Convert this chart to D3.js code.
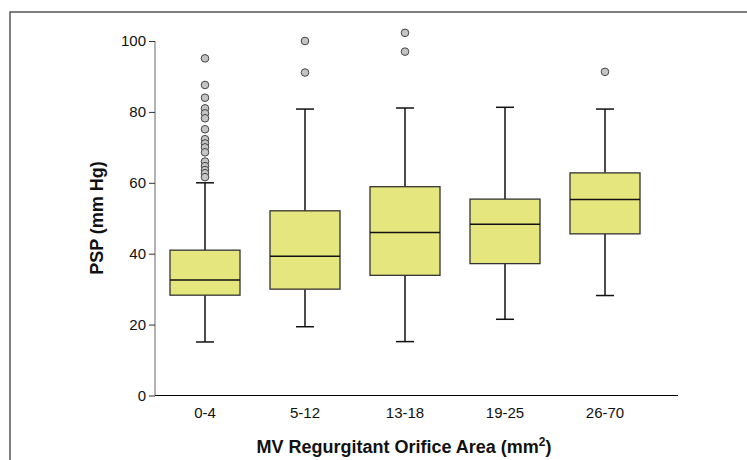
<!DOCTYPE html>
<html>
<head>
<meta charset="utf-8">
<script src="https://cdn.jsdelivr.net/npm/d3@7"></script>
<style>
  html, body { margin: 0; padding: 0; background: #fff; }
  svg { display: block; }
  text { font-family: "Liberation Sans", Arial, Helvetica, sans-serif; }
</style>
</head>
<body>
<svg id="chart" width="747" height="460"></svg>
<script>
const categories = ["0-4", "5-12", "13-18", "19-25", "26-70"];
const whiskerLow  = [15.1, 19.4, 15.2, 21.5, 28.2];
const q1          = [28.3, 30.0, 33.9, 37.2, 45.6];
const median      = [32.6, 39.3, 46.0, 48.3, 55.3];
const q3          = [41.0, 52.1, 58.9, 55.4, 62.8];
const whiskerHigh = [60.0, 80.8, 81.1, 81.3, 80.8];
const outliers = [
  [95.1, 87.6, 84.0, 81.0, 79.6, 78.2, 75.1, 72.3, 71.1, 70.0, 68.6, 66.0, 64.7, 63.6, 62.7, 61.6],
  [100.0, 91.1],
  [102.3, 97.0],
  [],
  [91.3]
];
const yTicks = [0, 20, 40, 60, 80, 100];

const svg = d3.select("#chart");

// frame
svg.append("rect")
  .attr("x", 10).attr("y", 12)
  .attr("width", 760).attr("height", 470)
  .attr("fill", "none").attr("stroke", "#555").attr("stroke-width", 1.5);

const x = d3.scaleBand()
  .domain(categories)
  .range([155, 655])
  .paddingInner(0.3)
  .paddingOuter(0.15);

const y = d3.scaleLinear().domain([0, 100]).range([395.5, 41]);

// y axis
const yAxis = d3.axisLeft(y).tickValues(yTicks).tickSize(6).tickPadding(3);
const gy = svg.append("g").attr("transform", "translate(155,0)").call(yAxis);
gy.select(".domain").attr("stroke", "#666").attr("d", `M0,${y(100)}V${y(0)}`);
gy.selectAll(".tick line").attr("stroke", "#333");
gy.selectAll(".tick text").attr("font-size", 15).attr("fill", "#111")
  .attr("font-family", "Liberation Sans, Arial, sans-serif");

// x axis line
svg.append("line")
  .attr("x1", 155).attr("x2", 678)
  .attr("y1", y(0)).attr("y2", y(0))
  .attr("stroke", "#000").attr("stroke-width", 1.2);

// x tick labels
const xAxis = d3.axisBottom(x).tickSize(0).tickPadding(0);
const gx = svg.append("g").attr("transform", `translate(0,${y(0)})`).call(xAxis);
gx.select(".domain").remove();
gx.selectAll(".tick text").attr("font-size", 15).attr("fill", "#111")
  .attr("dy", null).attr("y", 22.5)
  .attr("font-family", "Liberation Sans, Arial, sans-serif");

// boxes
const boxes = categories.map((c, i) => ({
  c, lo: whiskerLow[i], q1: q1[i], med: median[i], q3: q3[i], hi: whiskerHigh[i], out: outliers[i]
}));

const bw = x.bandwidth();
const capW = 18;
const g = svg.append("g");

const bg = g.selectAll("g.box").data(boxes).join("g").attr("class", "box")
  .attr("transform", d => `translate(${x(d.c) + bw / 2},0)`);

// whiskers
bg.append("line").attr("x1", 0).attr("x2", 0)
  .attr("y1", d => y(d.q3)).attr("y2", d => y(d.hi))
  .attr("stroke", "#111").attr("stroke-width", 1.5);
bg.append("line").attr("x1", 0).attr("x2", 0)
  .attr("y1", d => y(d.q1)).attr("y2", d => y(d.lo))
  .attr("stroke", "#111").attr("stroke-width", 1.5);
bg.append("line").attr("x1", -capW / 2).attr("x2", capW / 2)
  .attr("y1", d => y(d.hi)).attr("y2", d => y(d.hi))
  .attr("stroke", "#111").attr("stroke-width", 1.5);
bg.append("line").attr("x1", -capW / 2).attr("x2", capW / 2)
  .attr("y1", d => y(d.lo)).attr("y2", d => y(d.lo))
  .attr("stroke", "#111").attr("stroke-width", 1.5);

// box
bg.append("rect")
  .attr("x", -bw / 2).attr("width", bw)
  .attr("y", d => y(d.q3)).attr("height", d => y(d.q1) - y(d.q3))
  .attr("fill", "#e6e67f").attr("stroke", "#333").attr("stroke-width", 1.3);

// median
bg.append("line").attr("x1", -bw / 2).attr("x2", bw / 2)
  .attr("y1", d => y(d.med)).attr("y2", d => y(d.med))
  .attr("stroke", "#111").attr("stroke-width", 1.6);

// outliers
bg.selectAll("circle").data(d => d.out).join("circle")
  .attr("cx", 0).attr("cy", v => y(v)).attr("r", 3.8)
  .attr("fill", "#c4c4c4").attr("stroke", "#444").attr("stroke-width", 1);

// axis titles
svg.append("text")
  .attr("transform", "translate(103,218) rotate(-90)")
  .attr("text-anchor", "middle")
  .attr("font-size", 18).attr("font-weight", "bold").attr("fill", "#111")
  .text("PSP (mm Hg)");

const xt = svg.append("text")
  .attr("x", 404).attr("y", 453)
  .attr("text-anchor", "middle")
  .attr("font-size", 18).attr("font-weight", "bold").attr("fill", "#111");
xt.append("tspan").text("MV Regurgitant Orifice Area (mm");
xt.append("tspan").attr("font-size", 12).attr("dy", -7).text("2");
xt.append("tspan").attr("dy", 7).text(")");
</script>
</body>
</html>
